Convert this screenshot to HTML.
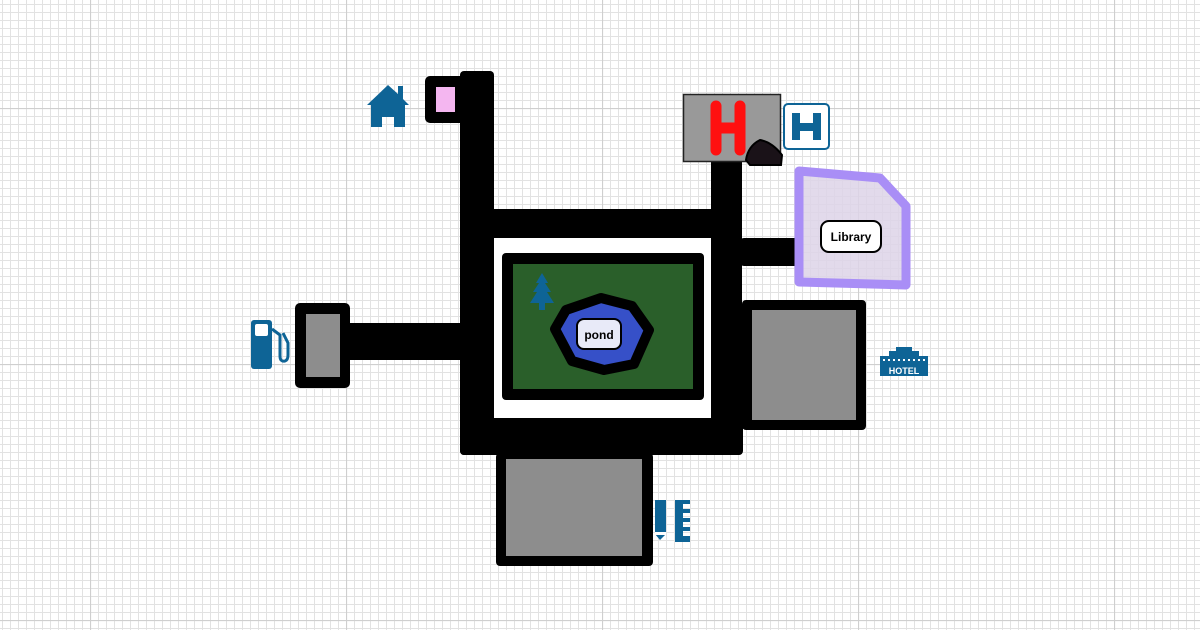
<!DOCTYPE html>
<html><head><meta charset="utf-8"><style>
html,body{margin:0;padding:0;width:1200px;height:630px;overflow:hidden;background:#fff}
svg{display:block}
text{font-family:"Liberation Sans",sans-serif}
</style></head><body>
<svg width="1200" height="630" viewBox="0 0 1200 630" xmlns="http://www.w3.org/2000/svg">
<defs>
<pattern id="minor" x="2" y="4" width="8" height="8" patternUnits="userSpaceOnUse">
<path d="M0 0.5H8M0.5 0V8" stroke="#e2e2e2" stroke-width="1" fill="none"/>
</pattern>
<pattern id="major" x="90" y="108" width="256" height="256" patternUnits="userSpaceOnUse">
<path d="M0 0.5H256M0.5 0V256" stroke="#cfcfcf" stroke-width="1.2" fill="none"/>
</pattern>
</defs>
<rect width="1200" height="630" fill="url(#minor)"/>
<rect width="1200" height="630" fill="url(#major)"/>

<rect x="494" y="238" width="217" height="180" fill="#fff"/>

<rect x="460" y="71" width="34" height="384" rx="4" fill="#000"/>
<rect x="460" y="209" width="282" height="29" fill="#000"/>
<rect x="711" y="157" width="31" height="298" rx="4" fill="#000"/>
<rect x="460" y="418" width="283" height="37" rx="4" fill="#000"/>
<rect x="740" y="238" width="59" height="28" rx="4" fill="#000"/>
<rect x="340" y="323" width="122" height="37" fill="#000"/>

<rect x="425" y="76" width="40" height="47" rx="5" fill="#000"/>
<rect x="436" y="87" width="19" height="25" fill="#f4b6f0"/>
<path d="M367 105 L388 85 L398 94 V86 H403 V99 L409 105 Z" fill="#0e6496"/>
<path d="M371 105 H405 V127 H394 V117 H382 V127 H371 Z" fill="#0e6496"/>

<rect x="295" y="303" width="55" height="85" rx="5" fill="#000"/>
<rect x="306" y="314" width="34" height="63" fill="#999" fill-opacity="0.92"/>
<rect x="251" y="320" width="21" height="49" rx="3" fill="#0e6496"/>
<rect x="255" y="324" width="13" height="12" rx="2" fill="#fff"/>
<path d="M272 329 L280 335 V356 Q280 362 285 361 Q288 360 288 355 V343 L283 333" fill="none" stroke="#0e6496" stroke-width="3"/>

<rect x="502" y="253" width="202" height="147" rx="4" fill="#000"/>
<rect x="513" y="264" width="180" height="125" fill="#2a5f2a"/>
<path d="M542 273 L548 283 H545 L551 292 H547 L554 303 H545 V310 H539 V303 H530 L537 292 H533 L539 283 H536 Z" fill="#0e6496"/>
<polygon points="601,298 632,306 649,330 634,364 604,370 572,361 555,329 566,310" fill="#3650c8" stroke="#000" stroke-width="10" stroke-linejoin="round"/>
<rect x="577" y="319" width="44" height="30" rx="7" fill="#e8eaf8" stroke="#000" stroke-width="2"/>
<text x="599" y="339" font-size="12" font-weight="bold" text-anchor="middle" fill="#000">pond</text>

<rect x="496" y="453" width="157" height="113" rx="4" fill="#000"/>
<rect x="506" y="459" width="136" height="97" fill="#999" fill-opacity="0.92"/>
<path d="M655 500 H666 V534 L660 540 L655 534 Z" fill="#0e6496"/>
<rect x="655" y="532" width="11" height="3" fill="#fff"/>
<path d="M675 500 H690 V504 H683 V509 H690 V513 H683 V518 H690 V522 H683 V527 H690 V531 H683 V536 H690 V542 H675 Z" fill="#0e6496"/>

<rect x="742" y="300" width="124" height="130" rx="4" fill="#000"/>
<rect x="752" y="310" width="104" height="110" fill="#999" fill-opacity="0.92"/>
<g fill="#0e6496">
<rect x="896" y="347" width="16" height="8"/>
<rect x="889" y="351" width="30" height="8"/>
<rect x="880" y="356" width="48" height="20"/>
</g>
<g fill="#fff"><rect x="883" y="359" width="2" height="2"/><rect x="888" y="359" width="2" height="2"/><rect x="893" y="359" width="2" height="2"/><rect x="898" y="359" width="2" height="2"/><rect x="903" y="359" width="2" height="2"/><rect x="908" y="359" width="2" height="2"/><rect x="913" y="359" width="2" height="2"/><rect x="918" y="359" width="2" height="2"/><rect x="923" y="359" width="2" height="2"/></g>
<text x="904" y="374" font-size="9" font-weight="bold" text-anchor="middle" fill="#fff">HOTEL</text>

<rect x="683.5" y="94.5" width="97" height="67" fill="#999" stroke="#222" stroke-width="1.5"/>
<path d="M716 106 V150 M740 106 V150 M716 128 H740" stroke="#ff1010" stroke-width="11" stroke-linecap="round" fill="none"/>
<path d="M746 160 Q748 146 760 140 Q772 142 782 155 L781 165 L750 165 Z" fill="#1a1218" stroke="#000" stroke-width="2"/>
<rect x="784" y="104" width="45" height="45" rx="4" fill="#fff" stroke="#0e6496" stroke-width="2"/>
<path d="M796 113 V140 M817 113 V140 M796 127 H817" stroke="#0e6496" stroke-width="8" fill="none"/>

<polygon points="799,171 880,178 906,206 906,285 799,282" fill="#ddd4e8" fill-opacity="0.85" stroke="#a98ef6" stroke-width="9" stroke-linejoin="round"/>
<rect x="821" y="221" width="60" height="31" rx="8" fill="#fff" stroke="#000" stroke-width="2"/>
<text x="851" y="241" font-size="12" font-weight="bold" text-anchor="middle" fill="#000">Library</text>
</svg>
</body></html>
